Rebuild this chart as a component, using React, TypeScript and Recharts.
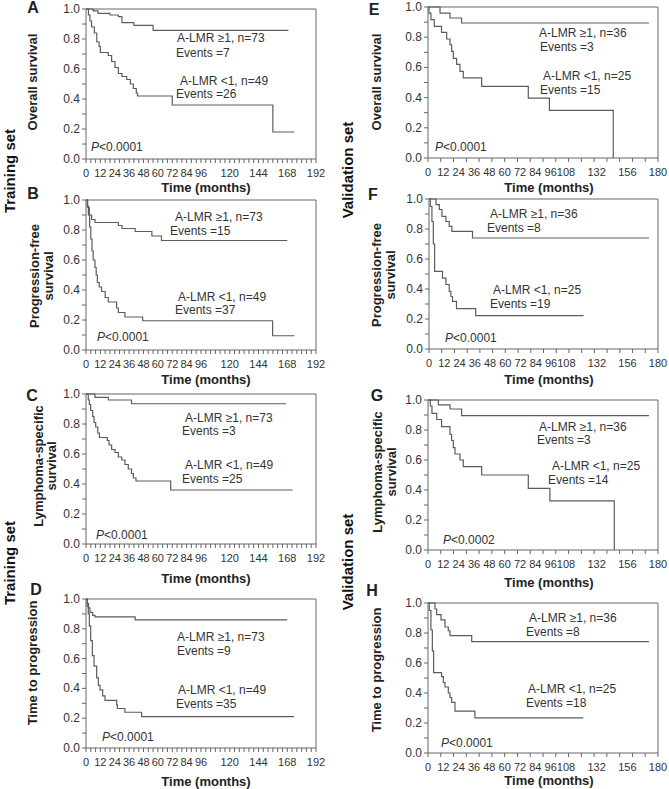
import { LineChart, Line, XAxis, YAxis, ReferenceLine } from 'recharts';

// Kaplan-Meier steps, [months, survival]
const osTrainHigh = [[0, 1], [6, 0.987], [10, 0.971], [20, 0.96], [27, 0.949], [30, 0.909], [40, 0.891], [56, 0.858], [169, 0.858]];
const osTrainLow = [[0, 1], [2, 0.96], [3.3, 0.92], [4.7, 0.88], [7, 0.84], [9, 0.78], [11, 0.75], [12, 0.71], [18.6, 0.69], [21.4, 0.65], [24.2, 0.61], [27, 0.57], [30, 0.55], [34, 0.53], [37, 0.5], [39.5, 0.47], [42, 0.44], [43, 0.42], [72, 0.36], [156, 0.18], [174, 0.18]];
const pfsTrainHigh = [[0, 1], [1.4, 0.95], [2.8, 0.9], [4.7, 0.87], [7.5, 0.85], [27, 0.83], [30, 0.81], [41, 0.79], [55, 0.76], [63, 0.73], [168, 0.73]];
const pfsTrainLow = [[0, 1], [1, 0.96], [2, 0.9], [3, 0.82], [4, 0.74], [5, 0.66], [6, 0.6], [7.5, 0.55], [8.5, 0.5], [9.5, 0.45], [11, 0.42], [13, 0.39], [16, 0.35], [18.6, 0.32], [25.6, 0.28], [27, 0.25], [32.5, 0.22], [47.3, 0.195], [155.8, 0.095], [174, 0.095]];
const lssTrainHigh = [[0, 1], [7.5, 0.978], [18.6, 0.96], [38, 0.935], [167, 0.935]];
const lssTrainLow = [[0, 1], [1.9, 0.96], [2.8, 0.93], [3.9, 0.89], [5.6, 0.85], [6.7, 0.81], [8.1, 0.78], [9.8, 0.74], [11.2, 0.71], [17.8, 0.69], [19.2, 0.66], [21.4, 0.63], [24.2, 0.61], [27, 0.58], [29.8, 0.56], [32.5, 0.53], [35.3, 0.5], [38, 0.47], [39.5, 0.44], [41.7, 0.42], [70.7, 0.36], [172.5, 0.36]];
const ttpTrainHigh = [[0, 1], [1, 0.97], [2.1, 0.94], [3.3, 0.91], [5.6, 0.89], [7.5, 0.88], [41, 0.86], [168, 0.86]];
const ttpTrainLow = [[0, 1], [1, 0.95], [1.9, 0.9], [2.8, 0.82], [3.9, 0.72], [5.3, 0.62], [6.7, 0.55], [8.9, 0.47], [10.3, 0.42], [11.7, 0.39], [13.9, 0.35], [15.9, 0.32], [25.6, 0.29], [26.2, 0.265], [32.5, 0.24], [46.4, 0.21], [173.6, 0.21]];

const osValidHigh = [[0, 1], [9.4, 0.96], [17.2, 0.927], [26.3, 0.894], [172.9, 0.894]];
const osValidLow = [[0, 1], [0.8, 0.96], [2.3, 0.916], [4.9, 0.872], [10.6, 0.832], [14.6, 0.788], [17.2, 0.75], [18.5, 0.706], [19.8, 0.66], [22.4, 0.62], [25, 0.574], [27.6, 0.53], [42, 0.475], [78.5, 0.397], [95, 0.316], [145, 0]];
const pfsValidHigh = [[0, 1], [5.5, 0.962], [8.1, 0.93], [10.2, 0.884], [13.3, 0.85], [15.9, 0.818], [18, 0.784], [34.2, 0.74], [172.9, 0.74]];
const pfsValidLow = [[0, 1], [1, 0.95], [2.3, 0.85], [3.4, 0.7], [4.4, 0.518], [10.6, 0.473], [13.3, 0.43], [15.9, 0.384], [17.2, 0.35], [18.5, 0.318], [21.6, 0.269], [36.7, 0.222], [121.5, 0.222]];
const lssValidHigh = [[0, 1], [8.1, 0.967], [17.2, 0.94], [26.3, 0.896], [172.9, 0.896]];
const lssValidLow = [[0, 1], [1.8, 0.96], [3.1, 0.911], [6.8, 0.87], [10.6, 0.822], [17.2, 0.77], [18.5, 0.73], [19.8, 0.682], [21.1, 0.64], [25, 0.6], [27.6, 0.556], [42, 0.5], [78.5, 0.411], [95.4, 0.327], [145.8, 0]];
const ttpValidHigh = [[0, 1], [5.5, 0.96], [6.8, 0.922], [10.2, 0.888], [13.3, 0.84], [15.9, 0.815], [17.2, 0.783], [34.2, 0.743], [172.9, 0.743]];
const ttpValidLow = [[0, 1], [1, 0.95], [2.3, 0.82], [3.4, 0.68], [4.4, 0.536], [10.6, 0.509], [12, 0.47], [13.3, 0.44], [15.9, 0.4], [17.2, 0.37], [18.5, 0.337], [21.1, 0.279], [36.7, 0.234], [121.5, 0.234]];

// axis ticks
const trainTicks = Array.from({ length: 49 }, (_, i) => i * 4);
const trainLabels = [0, 12, 24, 36, 48, 60, 72, 84, 96, 120, 144, 168, 192];
const validTicks = Array.from({ length: 19 }, (_, i) => i * 10);
const validLabels = [0, 12, 24, 36, 48, 60, 72, 84, 96, 108, 132, 156, 180];
const yTicks = [0, 0.1, 0.2, 0.3, 0.4, 0.5, 0.6, 0.7, 0.8, 0.9, 1];
const yLabels = ['0.0', '0.2', '0.4', '0.6', '0.8', '1.0'];

const FONT = 'Arial, "Liberation Sans", sans-serif';
const LINE = '#5c5c5c';
const AXIS = '#666';
const TXT = '#333';

const toPts = (arr: number[][]) => arr.map(([t, s]) => ({ t, s }));

interface PanelCfg {
  plot: { x: number; y: number; w: number; h: number };
  xMax: number;
  ticks: number[];
  labels: number[];
  high: number[][];
  low: number[][];
}

const panels: PanelCfg[] = [
  { plot: { x: 86, y: 9, w: 230, h: 150 }, xMax: 192, ticks: trainTicks, labels: trainLabels, high: osTrainHigh, low: osTrainLow },
  { plot: { x: 86, y: 200, w: 230, h: 150 }, xMax: 192, ticks: trainTicks, labels: trainLabels, high: pfsTrainHigh, low: pfsTrainLow },
  { plot: { x: 86, y: 394, w: 230, h: 150 }, xMax: 192, ticks: trainTicks, labels: trainLabels, high: lssTrainHigh, low: lssTrainLow },
  { plot: { x: 86, y: 599, w: 230, h: 149 }, xMax: 192, ticks: trainTicks, labels: trainLabels, high: ttpTrainHigh, low: ttpTrainLow },
  { plot: { x: 428, y: 7, w: 230, h: 151 }, xMax: 180, ticks: validTicks, labels: validLabels, high: osValidHigh, low: osValidLow },
  { plot: { x: 429, y: 199, w: 229, h: 150 }, xMax: 180, ticks: validTicks, labels: validLabels, high: pfsValidHigh, low: pfsValidLow },
  { plot: { x: 428, y: 400, w: 230, h: 150 }, xMax: 180, ticks: validTicks, labels: validLabels, high: lssValidHigh, low: lssValidLow },
  { plot: { x: 428, y: 603, w: 230, h: 150 }, xMax: 180, ticks: validTicks, labels: validLabels, high: ttpValidHigh, low: ttpValidLow },
];

// text overlays: [text, x, y]
const letters = [['A', 33, 13], ['B', 33, 199], ['C', 32, 401], ['D', 36, 595], ['E', 374, 15], ['F', 373, 200], ['G', 377, 401], ['H', 372, 596]];
const timeTitles = [[206, 192], [206, 384], [206, 583], [206, 786], [549, 192], [549, 384], [549, 587], [549, 785]];
const yTitles: [string[], number, number, number][] = [
  [['Overall survival'], 33, 82, 0],
  [['Progression-free', 'survival'], 35, 276, 14],
  [['Lymphoma-specific', 'survival'], 39, 466, 13],
  [['Time to progression'], 33, 663, 0],
  [['Overall survival'], 377, 82, 0],
  [['Progression-free', 'survival'], 377, 275, 14],
  [['Lymphoma-specific', 'survival'], 378, 472, 14],
  [['Time to progression'], 377, 670, 0],
];
const sideTitles = [['Training set', 10, 171], ['Training set', 10, 563], ['Validation set', 348, 170], ['Validation set', 348, 562]];
const notes = [
  ['A-LMR \u22651, n=73', 177, 42], ['Events =7', 176, 57], ['A-LMR <1, n=49', 180, 85], ['Events =26', 176, 98],
  ['A-LMR \u22651, n=73', 175, 221], ['Events =15', 170, 235], ['A-LMR <1, n=49', 178, 301], ['Events =37', 175, 314],
  ['A-LMR \u22651, n=73', 185, 422], ['Events =3', 182, 435], ['A-LMR <1, n=49', 185, 469], ['Events =25', 182, 483],
  ['A-LMR \u22651, n=73', 177, 641], ['Events =9', 177, 655], ['A-LMR <1, n=49', 178, 694], ['Events =35', 176, 708],
  ['A-LMR \u22651, n=36', 539, 37], ['Events =3', 540, 51], ['A-LMR <1, n=25', 543, 80], ['Events =15', 540, 94],
  ['A-LMR \u22651, n=36', 490, 218], ['Events =8', 487, 232], ['A-LMR <1, n=25', 493, 294], ['Events =19', 490, 308],
  ['A-LMR \u22651, n=36', 539, 431], ['Events =3', 537, 444], ['A-LMR <1, n=25', 552, 470], ['Events =14', 548, 484],
  ['A-LMR \u22651, n=36', 529, 622], ['Events =8', 526, 636], ['A-LMR <1, n=25', 528, 693], ['Events =18', 526, 707],
];
const pNotes = [['<0.0001', 91, 151], ['<0.0001', 97, 341], ['<0.0001', 96, 539], ['<0.0001', 102, 741], ['<0.0001', 435, 151], ['<0.0001', 445, 342], ['<0.0002', 443, 544], ['<0.0001', 441, 747]];

function Panel({ cfg }: { cfg: PanelCfg }) {
  const { plot, xMax, ticks, labels } = cfg;
  const YW = 30;
  const XH = 22;
  const MT = 10;
  const MR = 14;
  const allTicks = Array.from(new Set([...ticks, ...labels])).sort((a, b) => a - b);
  // tick props: y = axis + tickSize + tickMargin
  const XTick = (p: any) => {
    const v = p.payload.value;
    return (
      <g>
        {ticks.includes(v) && <line x1={p.x} x2={p.x} y1={p.y - 6} y2={p.y - 2} stroke={AXIS} />}
        {labels.includes(v) && (
          <text x={p.x} y={p.y} dy={12} textAnchor="middle" fontSize={11} fontFamily={FONT} fill={TXT}>
            {v}
          </text>
        )}
      </g>
    );
  };
  const YTick = (p: any) => {
    const lbl = Number(p.payload.value).toFixed(1);
    if (!yLabels.includes(lbl)) return <g />;
    return (
      <text x={p.x} y={p.y} dy={4} textAnchor="end" fontSize={12} fontFamily={FONT} fill={TXT}>
        {lbl}
      </text>
    );
  };
  return (
    <div style={{ position: 'absolute', left: plot.x - YW, top: plot.y - MT }}>
      <LineChart width={plot.w + YW + MR} height={plot.h + MT + XH} margin={{ top: MT, right: MR, bottom: 0, left: 0 }}>
        <XAxis
          type="number"
          dataKey="t"
          domain={[0, xMax]}
          ticks={allTicks}
          interval={0}
          tickSize={4}
          tickMargin={2}
          tickLine={false}
          height={XH}
          tick={XTick}
          stroke={AXIS}
          allowDataOverflow
        />
        <YAxis
          type="number"
          dataKey="s"
          domain={[0, 1]}
          ticks={yTicks}
          interval={0}
          tickSize={4}
          tickMargin={2}
          width={YW}
          tick={YTick}
          stroke={AXIS}
        />
        <ReferenceLine y={1} stroke={AXIS} />
        <ReferenceLine x={xMax} stroke={AXIS} />
        <Line data={toPts(cfg.high)} dataKey="s" type="stepAfter" stroke={LINE} strokeWidth={1.2} dot={false} isAnimationActive={false} />
        <Line data={toPts(cfg.low)} dataKey="s" type="stepAfter" stroke={LINE} strokeWidth={1.2} dot={false} isAnimationActive={false} />
      </LineChart>
    </div>
  );
}

export default function App() {
  return (
    <div style={{ position: 'absolute', left: 0, top: 0, width: 669, height: 789, background: '#fff', fontFamily: FONT }}>
      {panels.map((p, i) => (
        <Panel key={i} cfg={p} />
      ))}
      <svg width={669} height={789} style={{ position: 'absolute', left: 0, top: 0, pointerEvents: 'none' }} fontFamily={FONT}>
        {letters.map(([t, x, y], i) => (
          <text key={'l' + i} x={x} y={y} textAnchor="middle" fontSize={16} fontWeight="bold" fill="#222">
            {t}
          </text>
        ))}
        {timeTitles.map(([x, y], i) => (
          <text key={'t' + i} x={x} y={y} textAnchor="middle" fontSize={13} fontWeight="bold" fill="#222">
            Time (months)
          </text>
        ))}
        {yTitles.map(([lines, x, y, gap], i) => (
          <text key={'y' + i} transform={`translate(${x},${y}) rotate(-90)`} textAnchor="middle" fontSize={13} fontWeight="bold" fill="#222">
            {lines.map((ln, j) => (
              <tspan key={j} x={0} y={4 + j * gap}>
                {ln}
              </tspan>
            ))}
          </text>
        ))}
        {sideTitles.map(([t, x, y], i) => (
          <text key={'s' + i} transform={`translate(${x},${y}) rotate(-90)`} y={5} textAnchor="middle" fontSize={15} fontWeight="bold" fill="#111">
            {t}
          </text>
        ))}
        {notes.map(([t, x, y], i) => (
          <text key={'n' + i} x={x} y={y} fontSize={12} fill={TXT}>
            {t}
          </text>
        ))}
        {pNotes.map(([t, x, y], i) => (
          <text key={'p' + i} x={x} y={y} fontSize={12} fill={TXT}>
            <tspan fontStyle="italic">P</tspan>
            {t}
          </text>
        ))}
      </svg>
    </div>
  );
}
